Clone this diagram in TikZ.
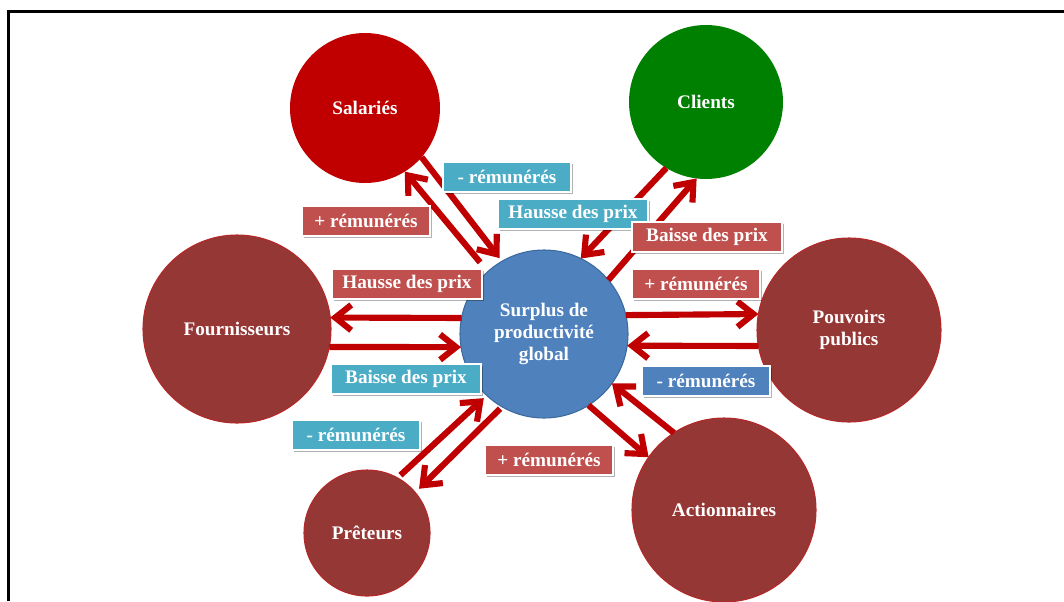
\documentclass[tikz,border=0pt]{standalone}
\usepackage{fontspec}
\setmainfont{Liberation Serif}
\usetikzlibrary{arrows.meta,shadows}
\definecolor{arrred}{HTML}{C00000}
\definecolor{salred}{HTML}{C00000}
\definecolor{cligreen}{HTML}{008000}
\definecolor{darkred}{HTML}{953735}
\definecolor{darkredline}{HTML}{B52828}
\definecolor{ctrblue}{HTML}{4F81BD}
\definecolor{ctrborder}{HTML}{3C6A9E}
\definecolor{lblcyan}{HTML}{4BACC6}
\definecolor{lblred}{HTML}{C0504D}
\definecolor{lblblue}{HTML}{4F81BD}
\begin{document}
\begin{tikzpicture}[x=0.75pt,y=-0.75pt,
  every node/.style={font=\fontsize{14.4}{16.2}\selectfont\bfseries, text=white, align=center},
  actor/.style={circle, inner sep=0pt, outer sep=0pt, minimum size=#1},
  redactor/.style={actor=#1, fill=darkred, draw=darkredline, line width=0.8pt},
  arr/.style={draw=arrred, line width=4.6pt, -{Straight Barb[length=12pt,width=19pt]}},
  lbl/.style={rectangle, draw=white, line width=1.1pt, minimum height=22.5pt, inner xsep=0pt,
    drop shadow={shadow xshift=1.3pt, shadow yshift=-1.3pt, opacity=0.3, fill=black}},
  rem/.style={lbl, minimum width=96pt},
  prix/.style={lbl, minimum width=112.5pt}
]
\useasboundingbox (0,0) rectangle (1064,601);
\fill[white] (0,0) rectangle (1064,601);
\draw[line width=2.25pt] (8.5,601) -- (8.5,11.5) -- (1064,11.5);

% circles
\node[actor=126pt, fill=ctrblue, draw=ctrborder, line width=0.8pt] (c) at (544,334) {Surplus de\\productivité\\global};
\node[actor=112.5pt, fill=salred] (s) at (365,108) {Salariés};
\node[actor=115.5pt, fill=cligreen] (k) at (706,102) {Clients};
\node[redactor=141pt] (f) at (237,329) {Fournisseurs};
\node[redactor=138pt] (p) at (849,330) {Pouvoirs\\publics};
\node[redactor=94.5pt] (t) at (367,533) {Prêteurs};
\node[redactor=138pt] (a) at (724,510) {Actionnaires};

% arrows
\draw[arr, shorten <=9pt] (c.132) -- (s.-58);
\draw[arr, shorten >=3pt] (s.-41) -- (c.120);
\draw[arr] (k.-121) -- (c.64);
\draw[arr] (c.40) -- (k.-97);
\draw[arr] (c.169) -- (f.7.4);
\draw[arr] (f.-11) -- (c.189);
\draw[arr] (c.13.5) -- (p.170.4);
\draw[arr] (p.190.8) -- (c.-8.6);
\draw[arr, shorten <=3pt, shorten >=3pt] (t.61) -- (c.-133);
\draw[arr, shorten <=2pt, shorten >=4pt] (c.-120) -- (t.40);
\draw[arr] (a.123) -- (c.-36);
\draw[arr] (c.-58) -- (a.145);

% labels
\node[rem, fill=lblcyan] (l1) at (507,177) {- rémunérés};
\node[rem, fill=lblred] (l2) at (366,221) {+ rémunérés};
\node[prix, fill=lblcyan] (l3) at (573,214) {Hausse des prix};
\node[prix, fill=lblred] (l4) at (707,237) {Baisse des prix};
\node[rem, fill=lblred] (l5) at (696,284) {+ rémunérés};
\node[prix, fill=lblred] (l6) at (407,284) {Hausse des prix};
\node[prix, fill=lblcyan] (l7) at (406,379) {Baisse des prix};
\node[rem, fill=lblblue] (l8) at (706,381) {- rémunérés};
\node[rem, fill=lblcyan] (l9) at (356,435) {- rémunérés};
\node[rem, fill=lblred] (l10) at (549,460) {+ rémunérés};
\end{tikzpicture}
\end{document}
